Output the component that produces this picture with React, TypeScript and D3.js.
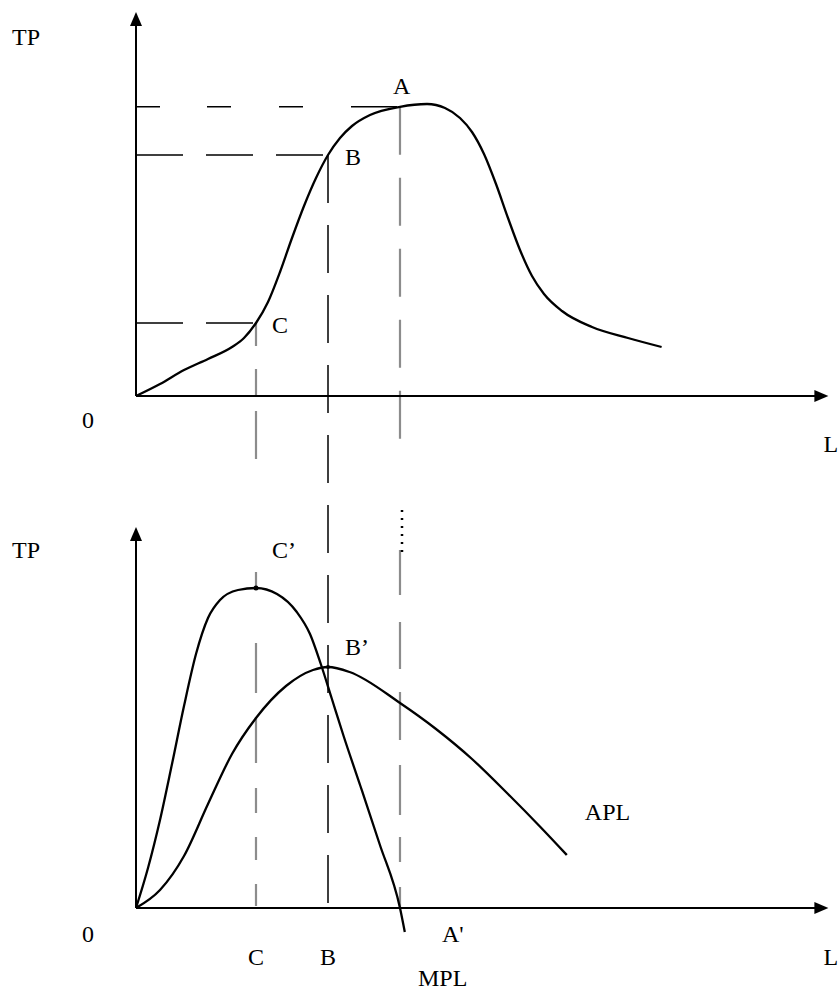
import React from 'react';
import * as d3 from 'd3';

// total product curve (upper panel), L units vs TP units
const tpL = [0, 2, 4, 6, 8, 9, 10, 11, 12, 13, 14, 15, 16, 17, 18, 19.5, 22, 24.25, 25.75, 27, 28, 29, 30, 31, 32, 33, 34, 35.5, 38, 41, 43.8];
const tpV = [0, 3, 6.5, 9.25, 12.25, 14.5, 18.25, 23.5, 31, 39.5, 47.5, 54.5, 60.25, 64.5, 67.5, 70.25, 72.3, 73, 72, 69.5, 66, 60.5, 53, 44.5, 36.5, 30, 25.5, 21.25, 17.25, 14.5, 12.25];

// marginal product (lower panel)
const mplL = [0, 1, 2, 3, 4, 5, 6, 7, 8.5, 10, 11.75, 13.4, 14.5, 15.4, 16.3, 17.3, 18.7, 20.3, 22, 22.4];
const mplV = [0, 10, 22, 36, 50.5, 63.5, 72.5, 77, 79.5, 80, 78.5, 74, 68.5, 61, 52.5, 43, 30.5, 16, 0, -6];

// average product (lower panel)
const aplL = [0, 2, 4, 6, 8, 10, 12.5, 14.75, 16, 17.8, 22, 25, 28, 31, 33.7, 35.9];
const aplV = [0, 4.5, 13, 26, 38.5, 47.5, 55.5, 59.5, 60.25, 59, 51.25, 44.75, 37.25, 28.5, 20.25, 13.25];

// key points: C, B, A
const pointNames = ['C', 'B', 'A'];
const pointL = [10, 16, 22];
const pointTP = [18.25, 60.25, 72.3];
const pointMPL = [80, 60.25, 0];

const FONT = '"Liberation Serif", "Times New Roman", serif';

export default function App() {
  const width = 840;
  const height = 992;

  const x = d3.scaleLinear().domain([0, 58]).range([136, 832]);
  const yTop = d3.scaleLinear().domain([0, 96]).range([396, 12]);
  const yBot = d3.scaleLinear().domain([0, 95]).range([908, 528]);

  const lineTop = d3.line<number>()
    .x((_, i) => x(tpL[i]))
    .y((d) => yTop(d))
    .curve(d3.curveMonotoneX);
  const lineMpl = d3.line<number>()
    .x((_, i) => x(mplL[i]))
    .y((d) => yBot(d))
    .curve(d3.curveMonotoneX);
  const lineApl = d3.line<number>()
    .x((_, i) => x(aplL[i]))
    .y((d) => yBot(d))
    .curve(d3.curveMonotoneX);

  const xEnd = 57.7;

  const arrowUp = (px: number, py: number) =>
    `M${px},${py} L${px - 6},${py + 14} L${px + 6},${py + 14} Z`;
  const arrowRight = (px: number, py: number) =>
    `M${px},${py} L${px - 14},${py - 6} L${px - 14},${py + 6} Z`;

  const txt = { fontFamily: FONT, fontSize: 24, fill: '#000' } as const;

  const [cL, bL, aL] = pointL;
  const [cTP, bTP, aTP] = pointTP;

  const hDash = ['47,23', '47,23', '24,47,24,48,24,48,46'];

  return (
    <svg width={width} height={height} style={{ position: 'absolute', left: 0, top: 0, background: '#fff' }}>
      {/* ---------- upper panel ---------- */}
      <g>
        {/* horizontal guides to the TP axis */}
        {pointL.map((l, i) => (
          <line key={'h' + i} x1={x(0)} x2={x(l)} y1={yTop(pointTP[i])} y2={yTop(pointTP[i])}
            stroke="#000" strokeWidth={1.5} strokeDasharray={hDash[i]} />
        ))}
        {/* vertical guides */}
        <line x1={x(cL)} x2={x(cL)} y1={yTop(cTP)} y2={yTop(-16)} stroke="#8c8c8c" strokeWidth={2.2} strokeDasharray="23,23,27,15,48,30" />
        <line x1={x(aL)} x2={x(aL)} y1={yTop(aTP)} y2={yTop(-16)} stroke="#8c8c8c" strokeWidth={2.2} strokeDasharray="48,23" />
        <line x1={x(bL)} x2={x(bL)} y1={yTop(bTP)} y2={yBot(0)} stroke="#000" strokeWidth={1.5} strokeDasharray="48,22" />

        {/* axes */}
        <line x1={x(0)} x2={x(0)} y1={yTop(0)} y2={yTop(94)} stroke="#000" strokeWidth={2} />
        <path d={arrowUp(x(0), yTop(96))} fill="#000" />
        <line x1={x(0)} x2={x(xEnd - 1)} y1={yTop(0)} y2={yTop(0)} stroke="#000" strokeWidth={2} />
        <path d={arrowRight(x(xEnd), yTop(0))} fill="#000" />

        <path d={lineTop(tpV) ?? ''} fill="none" stroke="#000" strokeWidth={2.3} />

        <text x={12} y={45} style={txt}>TP</text>
        <text x={82} y={yTop(0) + 32} style={txt}>0</text>
        <text x={x(xEnd) - 5} y={yTop(0) + 56} style={txt}>L</text>
        <text x={x(aL) - 7} y={yTop(aTP) - 13} style={txt}>{pointNames[2]}</text>
        <text x={x(bL) + 17} y={yTop(bTP) + 10} style={txt}>{pointNames[1]}</text>
        <text x={x(cL) + 16} y={yTop(cTP) + 10} style={txt}>{pointNames[0]}</text>
      </g>

      {/* ---------- lower panel ---------- */}
      <g>
        <line x1={x(cL)} x2={x(cL)} y1={yBot(84)} y2={yBot(0)} stroke="#8c8c8c" strokeWidth={2.2} strokeDasharray="18,53,50,24,46,25,25,24,23,24,22" />
        <line x1={x(aL)} x2={x(aL)} y1={yBot(89.5)} y2={yBot(0)} stroke="#8c8c8c" strokeWidth={2.2} strokeDasharray="45,27,47,23,48,25,50,22,25,25,22" />
        <line x1={x(aL) + 2} x2={x(aL) + 2} y1={yBot(99.5)} y2={yBot(89)} stroke="#000" strokeWidth={2.5} strokeDasharray="2,6" />

        {/* axes */}
        <line x1={x(0)} x2={x(0)} y1={yBot(0)} y2={yBot(93)} stroke="#000" strokeWidth={2} />
        <path d={arrowUp(x(0), yBot(95.25))} fill="#000" />
        <line x1={x(0)} x2={x(xEnd - 1)} y1={yBot(0)} y2={yBot(0)} stroke="#000" strokeWidth={2} />
        <path d={arrowRight(x(xEnd), yBot(0))} fill="#000" />

        <path d={lineApl(aplV) ?? ''} fill="none" stroke="#000" strokeWidth={2.3} />
        <path d={lineMpl(mplV) ?? ''} fill="none" stroke="#000" strokeWidth={2.3} />
        <circle cx={x(cL)} cy={yBot(pointMPL[0])} r={2.5} fill="#000" />
        <circle cx={x(bL)} cy={yBot(pointMPL[1])} r={2} fill="#000" />

        <text x={12} y={yBot(87.5)} style={txt}>TP</text>
        <text x={82} y={yBot(0) + 34} style={txt}>0</text>
        <text x={x(xEnd) - 5} y={yBot(0) + 57} style={txt}>L</text>
        <text x={x(cL) + 16} y={yBot(pointMPL[0]) - 30} style={txt}>{pointNames[0]}’</text>
        <text x={x(bL) + 17} y={yBot(pointMPL[1]) - 12} style={txt}>{pointNames[1]}’</text>
        <text x={x(aL) + 42} y={yBot(0) + 34} style={txt}>{pointNames[2]}'</text>
        <text x={x(cL)} y={yBot(0) + 57} textAnchor="middle" style={txt}>{pointNames[0]}</text>
        <text x={x(bL)} y={yBot(0) + 57} textAnchor="middle" style={txt}>{pointNames[1]}</text>
        <text x={x(aL) + 18} y={yBot(0) + 78} style={txt}>MPL</text>
        <text x={x(aplL[aplL.length - 1]) + 18} y={yBot(aplV[aplV.length - 1]) - 35} style={txt}>APL</text>
      </g>
    </svg>
  );
}
